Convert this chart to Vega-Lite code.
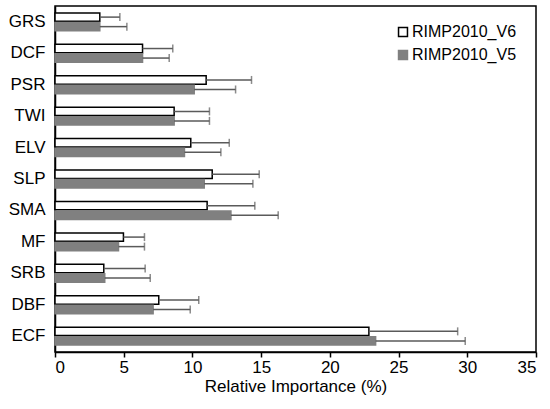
{
  "$schema": "https://vega.github.io/schema/vega-lite/v6.json",
  "autosize": {"type": "none"},
  "padding": {"left": 55, "top": 6, "right": 14, "bottom": 57},
  "width": 481,
  "height": 346,
  "background": "white",
  "config": {
    "font": "Liberation Sans",
    "view": {"stroke": "black", "strokeWidth": 1.5},
    "axis": {"labelFont": "Liberation Sans", "titleFont": "Liberation Sans", "labelColor": "black", "titleColor": "black", "domainColor": "black", "tickColor": "black", "grid": false}
  },
  "data": {
    "values": [
      {"var": "GRS", "series": "RIMP2010_V6", "value": 3.26, "err": 4.72},
      {"var": "GRS", "series": "RIMP2010_V5", "value": 3.26, "err": 5.23},
      {"var": "DCF", "series": "RIMP2010_V6", "value": 6.37, "err": 8.57},
      {"var": "DCF", "series": "RIMP2010_V5", "value": 6.37, "err": 8.31},
      {"var": "PSR", "series": "RIMP2010_V6", "value": 11.0, "err": 14.3},
      {"var": "PSR", "series": "RIMP2010_V5", "value": 10.13, "err": 13.14},
      {"var": "TWI", "series": "RIMP2010_V6", "value": 8.67, "err": 11.24},
      {"var": "TWI", "series": "RIMP2010_V5", "value": 8.67, "err": 11.24},
      {"var": "ELV", "series": "RIMP2010_V6", "value": 9.88, "err": 12.68},
      {"var": "ELV", "series": "RIMP2010_V5", "value": 9.42, "err": 12.07},
      {"var": "SLP", "series": "RIMP2010_V6", "value": 11.44, "err": 14.86},
      {"var": "SLP", "series": "RIMP2010_V5", "value": 10.86, "err": 14.4},
      {"var": "SMA", "series": "RIMP2010_V6", "value": 11.07, "err": 14.54},
      {"var": "SMA", "series": "RIMP2010_V5", "value": 12.8, "err": 16.24},
      {"var": "MF", "series": "RIMP2010_V6", "value": 4.98, "err": 6.51},
      {"var": "MF", "series": "RIMP2010_V5", "value": 4.62, "err": 6.51},
      {"var": "SRB", "series": "RIMP2010_V6", "value": 3.55, "err": 6.56},
      {"var": "SRB", "series": "RIMP2010_V5", "value": 3.62, "err": 6.93},
      {"var": "DBF", "series": "RIMP2010_V6", "value": 7.55, "err": 10.46},
      {"var": "DBF", "series": "RIMP2010_V5", "value": 7.14, "err": 9.84},
      {"var": "ECF", "series": "RIMP2010_V6", "value": 22.84, "err": 29.3},
      {"var": "ECF", "series": "RIMP2010_V5", "value": 23.33, "err": 29.85}
    ]
  },
  "encoding": {
    "y": {
      "field": "var", "type": "nominal",
      "sort": ["GRS", "DCF", "PSR", "TWI", "ELV", "SLP", "SMA", "MF", "SRB", "DBF", "ECF"],
      "scale": {"paddingInner": 0.43, "paddingOuter": 0.22},
      "axis": {"title": null, "ticks": false, "labelFontSize": 17, "labelPadding": 10, "domainWidth": 1.5}
    },
    "yOffset": {
      "field": "series", "type": "nominal",
      "sort": ["RIMP2010_V6", "RIMP2010_V5"],
      "scale": {"paddingInner": 0.12}
    }
  },
  "layer": [
    {
      "mark": {"type": "bar", "strokeWidth": 1.5},
      "encoding": {
        "x": {
          "field": "value", "type": "quantitative",
          "scale": {"domain": [0, 35], "nice": false},
          "axis": {"title": "Relative Importance (%)", "values": [0, 5, 10, 15, 20, 25, 30, 35], "labelFontSize": 17, "titleFontSize": 17, "titleFontWeight": "normal", "labelPadding": 2, "titlePadding": 3, "tickSize": 5, "tickWidth": 1.5, "domainWidth": 1.5}
        },
        "fill": {
          "field": "series", "type": "nominal",
          "sort": ["RIMP2010_V6", "RIMP2010_V5"],
          "scale": {"domain": ["RIMP2010_V6", "RIMP2010_V5"], "range": ["white", "#808080"]},
          "legend": {"title": null, "orient": "none", "legendX": 340, "legendY": 18, "symbolType": "square", "symbolSize": 80, "symbolStrokeWidth": 1.5, "labelFontSize": 16, "labelFont": "Liberation Sans", "labelColor": "black", "rowPadding": 7, "labelOffset": 1}
        },
        "stroke": {
          "field": "series", "type": "nominal",
          "sort": ["RIMP2010_V6", "RIMP2010_V5"],
          "scale": {"domain": ["RIMP2010_V6", "RIMP2010_V5"], "range": ["black", "#808080"]}
        }
      }
    },
    {
      "mark": {"type": "rule", "color": "#5a5a5a", "strokeWidth": 1.5},
      "encoding": {
        "x": {"field": "value", "type": "quantitative"},
        "x2": {"field": "err"}
      }
    },
    {
      "mark": {"type": "tick", "color": "#5a5a5a", "thickness": 1.5, "size": 8},
      "encoding": {
        "x": {"field": "err", "type": "quantitative"}
      }
    }
  ]
}
